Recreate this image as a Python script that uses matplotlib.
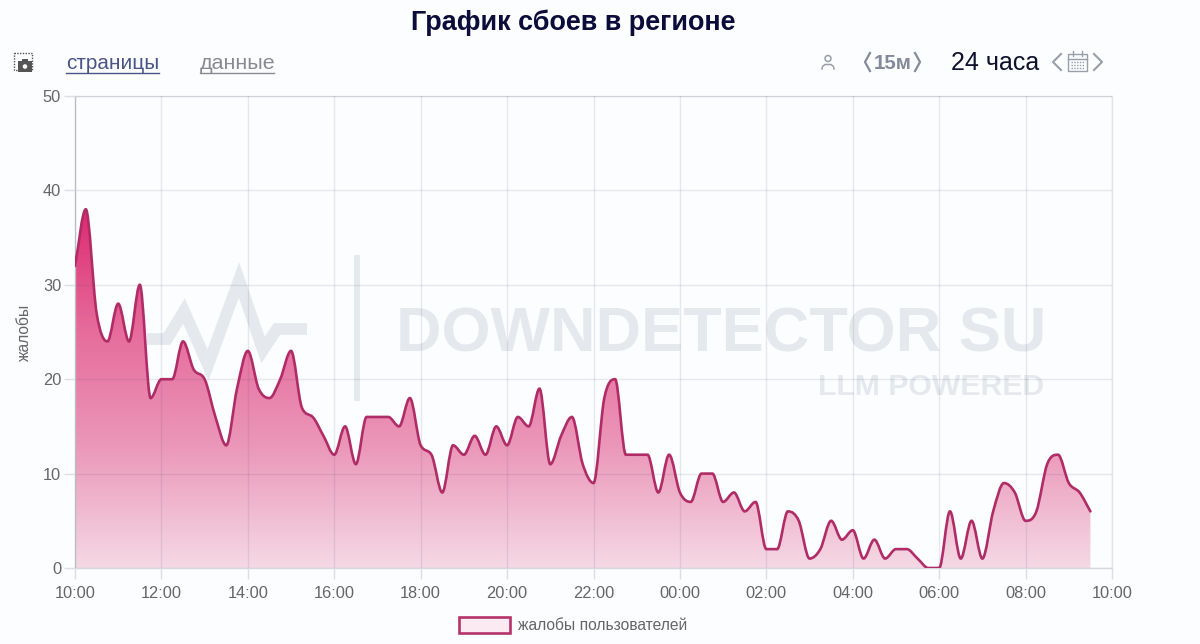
import numpy as np
import matplotlib
matplotlib.use("Agg")
import matplotlib.pyplot as plt
from matplotlib.colors import LinearSegmentedColormap
from matplotlib.patches import Circle, PathPatch, Rectangle
from matplotlib.path import Path

plt.rcParams['font.family'] = ['Liberation Sans', 'DejaVu Sans']

W, H = 1200, 644
BG = '#fcfdff'
GREY = '#666666'
ICON = '#9a9ea8'

title = 'График сбоев в регионе'
y_label = 'жалобы'
legend_label = 'жалобы пользователей'

# complaints per 15 minutes, starting at 10:00
complaints = [
    32, 38, 27, 24, 28, 24, 30, 18, 20, 20, 24, 21, 20, 16, 13, 19,
    23, 19, 18, 20, 23, 17, 16, 14, 12, 15, 11, 16, 16, 16, 15, 18,
    13, 12, 8, 13, 12, 14, 12, 15, 13, 16, 15, 19, 11, 14, 16, 11,
    9, 18, 20, 12, 12, 12, 8, 12, 8, 7, 10, 10, 7, 8, 6, 7,
    2, 2, 6, 5, 1, 2, 5, 3, 4, 1, 3, 1, 2, 2, 1, 0,
    0, 6, 1, 5, 1, 6, 9, 8, 5, 6, 11, 12, 9, 8, 6,
]
x_ticks = [0, 2, 4, 6, 8, 10, 12, 14, 16, 18, 20, 22, 24]
x_tick_labels = ['10:00', '12:00', '14:00', '16:00', '18:00', '20:00', '22:00',
                 '00:00', '02:00', '04:00', '06:00', '08:00', '10:00']
y_ticks = [0, 10, 20, 30, 40, 50]


def px(size):
    """Font size in points for a size given in pixels."""
    return size * 0.72


def monotone_path(xs, ys):
    """Bezier path through the points, Fritsch-Carlson monotone tangents."""
    xs = np.asarray(xs, dtype=float)
    ys = np.asarray(ys, dtype=float)
    h = np.diff(xs)
    d = np.diff(ys) / h
    m = np.zeros(len(xs))
    m[0], m[-1] = d[0], d[-1]
    m[1:-1] = (d[:-1] + d[1:]) / 2
    m[1:-1][d[:-1] * d[1:] <= 0] = 0
    for i in range(len(d)):
        if d[i] == 0:
            m[i] = m[i + 1] = 0
        else:
            a, b = m[i] / d[i], m[i + 1] / d[i]
            s = a * a + b * b
            if s > 9:
                k = 3 / np.sqrt(s)
                m[i] = k * a * d[i]
                m[i + 1] = k * b * d[i]
    verts = [(xs[0], ys[0])]
    codes = [Path.MOVETO]
    for i in range(len(h)):
        verts.append((xs[i] + h[i] / 3, ys[i] + m[i] * h[i] / 3))
        verts.append((xs[i + 1] - h[i] / 3, ys[i + 1] - m[i + 1] * h[i] / 3))
        verts.append((xs[i + 1], ys[i + 1]))
        codes += [Path.CURVE4] * 3
    return verts, codes


def draw_page(page):
    """Title, controls and the watermark, in pixel coordinates."""
    page.set_xlim(0, W)
    page.set_ylim(H, 0)
    page.axis('off')

    page.text(573.5, 23, title, ha='center', va='center', fontsize=px(27),
              fontweight='bold', color='#0c0c3a')

    page.text(66, 63, 'страницы', va='center', fontsize=px(20.8), color='#4a5488')
    page.plot([66, 159], [72.5, 72.5], color='#4a5488', lw=1)
    page.text(200, 63, 'данные', va='center', fontsize=px(21.5), color='#888a90')
    page.plot([200, 274], [72.5, 72.5], color='#888a90', lw=1)

    # camera icon
    page.add_patch(Rectangle((14, 53), 18, 17, fill=False, ec='#555555',
                             lw=1, ls=(0, (1, 1))))
    page.add_patch(Rectangle((18, 61), 14, 11, fc='#555555', ec='none'))
    page.add_patch(Rectangle((22, 59), 6, 3, fc='#555555', ec='none'))
    page.add_patch(Circle((25, 66.5), 2.3, fc=BG, ec='none'))

    # person icon
    page.add_patch(Circle((828, 58.5), 3, fill=False, ec=ICON, lw=1.1))
    page.plot([822, 822.5, 825, 831, 833.5, 834], [69, 66.5, 64.5, 64.5, 66.5, 69],
              color=ICON, lw=1.1)

    # interval selector
    page.plot([870, 865, 870], [53, 62, 71], color='#858a9a', lw=1.6)
    page.text(893, 63, '15м', ha='center', va='center', fontsize=px(20.5),
              fontweight='bold', color='#858a9a')
    page.plot([915, 920, 915], [53, 62, 71], color='#858a9a', lw=1.6)

    page.text(951, 63, '24 часа', va='center', fontsize=px(25), color='#10102e')

    # calendar icon with arrows
    page.plot([1061, 1053, 1061], [54, 62, 70], color=ICON, lw=1.5)
    page.add_patch(Rectangle((1068, 54), 19, 17, fill=False, ec=ICON, lw=1))
    page.plot([1068, 1087], [58.5, 58.5], color=ICON, lw=1)
    page.plot([1073, 1073], [51, 56], color=ICON, lw=1)
    page.plot([1082, 1082], [51, 56], color=ICON, lw=1)
    for row in (62, 65, 68):
        page.plot([1071, 1084], [row, row], color=ICON, lw=1, ls=(0, (1, 1)))
    page.plot([1094, 1102, 1094], [54, 62, 70], color=ICON, lw=1.5)

    # watermark
    mark = '#e5e8ed'
    page.plot([147, 167, 184, 208, 239, 263, 277, 307],
              [339, 339, 311, 365, 280, 350, 329, 329],
              color=mark, lw=8.5, solid_joinstyle='miter', solid_capstyle='butt')
    page.add_patch(Rectangle((354, 255), 6, 146, fc=mark, ec='none'))
    page.text(721, 335, 'DOWNDETECTOR SU', ha='center', va='center',
              fontsize=px(63), fontweight='bold', color=mark)
    page.text(931, 387, 'LLM POWERED', ha='center', va='center',
              fontsize=px(30.2), fontweight='bold', color=mark)

    # legend
    page.add_patch(Rectangle((458.5, 617), 51, 16, fc='#fbeaf2', ec='#b5336b', lw=1.9))
    page.text(518, 625, legend_label, va='center', fontsize=px(15.6), color=GREY)


def main():
    fig = plt.figure(figsize=(W / 100, H / 100), dpi=100, facecolor=BG)

    page = fig.add_axes([0, 0, 1, 1], zorder=0)
    draw_page(page)

    left, right, top, bottom = 75, 1112, 96, 568
    ax = fig.add_axes([left / W, 1 - bottom / H, (right - left) / W, (bottom - top) / H],
                      zorder=1)
    ax.patch.set_alpha(0)

    hours = np.arange(len(complaints)) * 0.25
    verts, codes = monotone_path(hours, complaints)

    # area under the curve with a vertical gradient
    area = Path(verts + [(hours[-1], 0), (hours[0], 0), (hours[0], complaints[0])],
                codes + [Path.LINETO, Path.LINETO, Path.LINETO])
    clip = PathPatch(area, fc='none', ec='none', transform=ax.transData)
    ax.add_patch(clip)
    cmap = LinearSegmentedColormap.from_list(
        'fill', ['#f5d9e5', '#eb98b9', '#e66b9b', '#dc2a70'], N=256)
    img = ax.imshow(np.linspace(1, 0, 256).reshape(-1, 1), cmap=cmap, aspect='auto',
                    extent=[hours[0], hours[-1], 0, max(complaints)], zorder=1,
                    vmin=0, vmax=1)
    img.set_clip_path(clip)

    ax.add_patch(PathPatch(Path(verts, codes), fc='none', ec='#b02c66', lw=1.9,
                           zorder=3, capstyle='round'))

    ax.set_xlim(0, 24)
    ax.set_ylim(0, 50)
    ax.set_xticks(x_ticks, x_tick_labels)
    ax.set_yticks(y_ticks)
    ax.tick_params(colors='#dcdee3', labelcolor=GREY, labelsize=px(16.4), length=8,
                   width=1, pad=3)
    ax.tick_params(axis='x', pad=5)
    ax.tick_params(axis='y', pad=2)
    ax.grid(True, color='#50506a', alpha=0.12, lw=1, zorder=2)
    ax.set_axisbelow(False)
    for name, spine in ax.spines.items():
        spine.set_color('#e2e4e9')
        spine.set_linewidth(1)
        spine.set_zorder(2)
    ax.spines['left'].set_color('#c8cad0')
    ax.spines['bottom'].set_color('#d6d8dd')
    ax.set_ylabel(y_label, fontsize=px(15.6), color=GREY)
    ax.yaxis.set_label_coords((32 - left) / (right - left), 0.5)

    fig.savefig('out.png', dpi=100, facecolor=BG)


if __name__ == '__main__':
    main()
